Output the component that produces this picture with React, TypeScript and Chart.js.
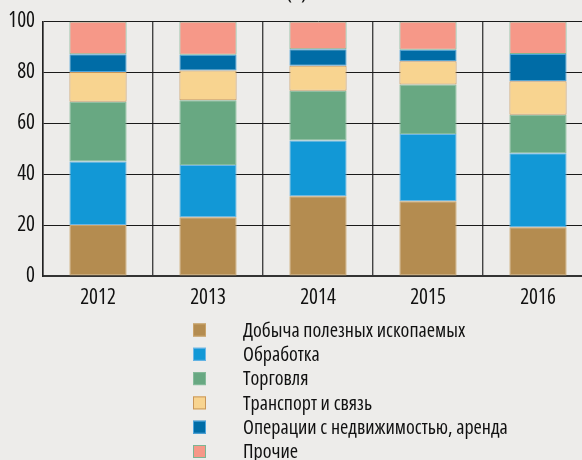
import React, { useEffect, useRef } from "react";
import { Chart, registerables } from "chart.js";

Chart.register(...registerables);

const categories = ["2012", "2013", "2014", "2015", "2016"];
const seriesLabels = [
  "Добыча полезных ископаемых",
  "Обработка",
  "Торговля",
  "Транспорт и связь",
  "Операции с недвижимостью, аренда",
  "Прочие",
];
const mining = [20.0, 23.1, 31.3, 29.4, 19.1];
const manufacturing = [25.0, 20.5, 21.9, 26.4, 29.1];
const trade = [23.4, 25.4, 19.6, 19.4, 15.1];
const transport = [11.7, 11.7, 9.8, 9.1, 13.2];
const realEstate = [7.0, 6.2, 6.5, 4.6, 10.7];
const other = [12.9, 13.1, 10.9, 11.1, 12.8];
const yTicks = [0, 20, 40, 60, 80, 100];

const fills = ["#b48c50", "#1298d6", "#68a882", "#f8d490", "#006ca6", "#f69888"];
const borders = ["#c9a36b", "#6cb6e6", "#86bb9b", "#c8965a", "#4ea4dc", "#7cb594"];

const FONT = '"Open Sans", "DejaVu Sans Condensed", sans-serif';

const legendPlugin = {
  id: "customLegend",
  afterDraw(chart: any) {
    const { ctx, chartArea } = chart;
    ctx.save();
    chart.data.datasets.forEach((ds: any, i: number) => {
      const y = chartArea.bottom + 54 + i * 24.3;
      const x = chartArea.left + 150;
      ctx.fillStyle = ds.backgroundColor;
      ctx.fillRect(x, y - 6.5, 13, 13);
      ctx.strokeStyle = ds.borderColor;
      ctx.lineWidth = 1;
      ctx.strokeRect(x + 0.5, y - 6, 12, 12);
      ctx.fillStyle = "#111";
      ctx.font = `normal condensed 20px ${FONT}`;
      try {
        (ctx as any).fontStretch = "condensed";
      } catch (e) {}
      ctx.textBaseline = "middle";
      ctx.textAlign = "left";
      ctx.fillText(ds.label, x + 50, y + 1);
    });
    ctx.restore();
  },
};

export default function App() {
  const ref = useRef<HTMLCanvasElement | null>(null);
  useEffect(() => {
    document.body.style.margin = "0";
    document.body.style.background = "#edecea";
    document.body.style.overflow = "hidden";
    const values = [mining, manufacturing, trade, transport, realEstate, other];
    const chart = new Chart(ref.current as HTMLCanvasElement, {
      type: "bar",
      data: {
        labels: categories,
        datasets: values.map((v, i) => ({
          label: seriesLabels[i],
          data: v,
          backgroundColor: fills[i],
          borderColor: borders[i],
          borderWidth: 1,
          borderSkipped: false,
          barPercentage: 0.52,
          categoryPercentage: 1,
        })),
      },
      options: {
        animation: false,
        responsive: false,
        maintainAspectRatio: false,
        layout: { padding: { left: 0, right: 15, top: 0, bottom: 0 } },
        plugins: {
          legend: { display: false },
          tooltip: { enabled: false },
          title: {
            display: true,
            text: "(а)",
            color: "#111",
            font: { family: FONT, size: 22, weight: "normal condensed" as any },
            padding: { top: 0, bottom: 15 },
          },
        },
        scales: {
          x: {
            stacked: true,
            offset: true,
            afterFit: (s: any) => {
              s.height = 184;
            },
            grid: { color: "#444", lineWidth: 1.4, drawTicks: false, offset: true },
            border: { color: "#333", width: 2 },
            ticks: {
              color: "#111",
              padding: 9,
              font: { family: FONT, size: 21, weight: "normal condensed" as any },
            },
          },
          y: {
            stacked: true,
            min: 0,
            max: 100,
            afterFit: (s: any) => {
              s.width = 43;
            },
            afterBuildTicks: (s: any) => {
              s.ticks = yTicks.map((v) => ({ value: v }));
            },
            grid: { color: "#1a1a1a", lineWidth: 1, drawTicks: false },
            border: { color: "#222", width: 1.5 },
            ticks: {
              color: "#111",
              padding: 8,
              font: { family: FONT, size: 21, weight: "normal condensed" as any },
            },
          },
        },
      },
      plugins: [legendPlugin],
    });
    return () => chart.destroy();
  }, []);
  return (
    <div style={{ position: "relative", width: 608, height: 480, marginTop: -20 }}>
      <canvas ref={ref} width={608} height={480} style={{ display: "block" }} />
    </div>
  );
}
